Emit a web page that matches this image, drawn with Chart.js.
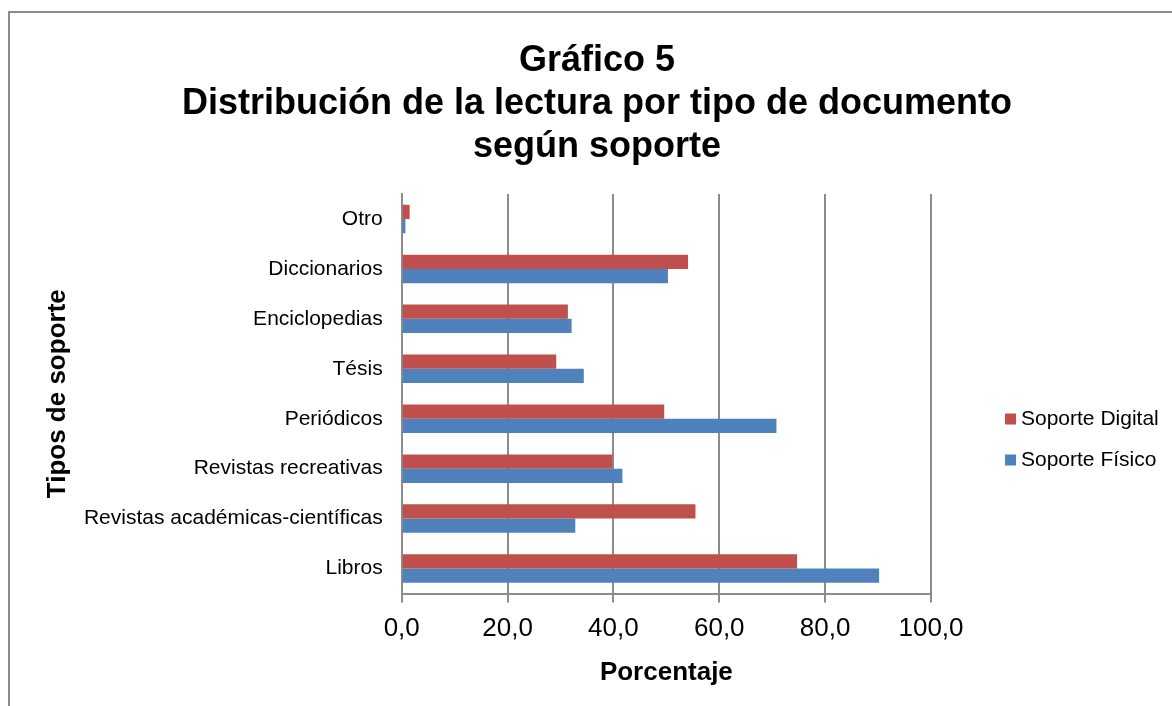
<!DOCTYPE html>
<html>
<head>
<meta charset="utf-8">
<script src="https://cdn.jsdelivr.net/npm/chart.js@4.4.1/dist/chart.umd.min.js"></script>
<style>
  html, body { margin: 0; padding: 0; background: #fff; overflow: hidden; }
  #wrap { position: relative; width: 1172px; height: 706px; }
  #frame { position: absolute; left: 8px; top: 11px; width: 1200px; height: 800px;
           border: 2px solid #8c8c8c; box-sizing: border-box; }
  #sharesChart { position: absolute; left: 0; top: 0; }
</style>
</head>
<body>
<div id="wrap">
  <div id="frame"></div>
  <canvas id="sharesChart" width="1172" height="706"></canvas>
</div>
<script>
const categories = ["Otro", "Diccionarios", "Enciclopedias", "Tésis", "Periódicos",
  "Revistas recreativas", "Revistas académicas-científicas", "Libros"];
const digitalData = [1.5, 54.1, 31.4, 29.2, 49.6, 39.8, 55.5, 74.7];
const fisicoData = [0.7, 50.3, 32.1, 34.4, 70.8, 41.7, 32.8, 90.2];
const xTicks = [0, 20, 40, 60, 80, 100];

const FONT = "'Liberation Sans', Arial, sans-serif";
const GRID = "#8c8c8c";

// legend drawn at the right, like the spreadsheet one
const sideLegend = {
  id: "sideLegend",
  afterDraw(chart) {
    const ctx = chart.ctx;
    ctx.save();
    ctx.font = "21px " + FONT;
    ctx.textBaseline = "middle";
    ctx.textAlign = "left";
    chart.data.datasets.forEach(function (ds, i) {
      const y = 419 + i * 41;
      ctx.fillStyle = ds.backgroundColor;
      ctx.fillRect(1005, y - 5.5, 11, 11);
      ctx.fillStyle = "#000";
      ctx.fillText(ds.label, 1021, y);
    });
    ctx.restore();
  }
};

document.addEventListener("DOMContentLoaded", function () {
  const chartCanvas = document.getElementById("sharesChart");
  new Chart(chartCanvas, {
    type: "bar",
    data: {
      labels: categories,
      datasets: [
        {
          label: "Soporte Digital",
          data: digitalData,
          backgroundColor: "#C0504D",
        },
        {
          label: "Soporte Físico",
          data: fisicoData,
          backgroundColor: "#4F81BD",
        },
      ],
    },
    options: {
      indexAxis: "y",
      responsive: false,
      animation: false,
      devicePixelRatio: 1,
      categoryPercentage: 0.5714,
      barPercentage: 1,
      layout: { padding: { left: 22, right: 0, top: 0, bottom: 0 } },
      plugins: {
        legend: { display: false },
        tooltip: { enabled: false },
        title: {
          display: true,
          text: ["Gráfico 5", "Distribución de la lectura por tipo de documento", "según soporte"],
          color: "#000",
          font: { family: FONT, size: 36, weight: "bold", lineHeight: 43 / 36 },
          padding: { top: 40, bottom: 25 },
        },
      },
      scales: {
        x: {
          min: 0,
          max: 100,
          afterBuildTicks: function (scale) {
            scale.ticks = xTicks.map(function (v) { return { value: v }; });
          },
          afterFit: function (scale) { scale.height = 112.5; },
          grid: {
            color: GRID,
            lineWidth: 2,
            drawTicks: true,
            tickLength: 9,
            tickColor: GRID,
          },
          border: { display: true, color: GRID, width: 2 },
          ticks: {
            color: "#000",
            padding: 11,
            maxRotation: 0,
            font: { family: FONT, size: 26 },
            callback: function (v) { return v.toFixed(1).replace(".", ","); },
          },
          title: {
            display: true,
            text: "Porcentaje",
            color: "#000",
            font: { family: FONT, size: 26, weight: "bold", lineHeight: 1.2 },
            padding: { top: 0, bottom: 18 },
          },
        },
        y: {
          afterFit: function (scale) { scale.width = 379.7; },
          grid: { display: false, drawTicks: false },
          border: { display: true, color: GRID, width: 2 },
          ticks: {
            color: "#000",
            padding: 19,
            font: { family: FONT, size: 21 },
          },
          title: {
            display: true,
            text: "Tipos de soporte",
            color: "#000",
            font: { family: FONT, size: 26, weight: "bold", lineHeight: 1.2 },
            padding: { top: 20.6, bottom: 0 },
          },
        },
        // empty band on the right that holds the legend
        legendBand: {
          axis: "y",
          type: "category",
          position: "right",
          afterFit: function (scale) { scale.width = 241; },
          grid: { display: false, drawTicks: false },
          border: { display: false },
          ticks: { display: false },
        },
      },
    },
    plugins: [sideLegend],
  });
});
</script>
</body>
</html>
